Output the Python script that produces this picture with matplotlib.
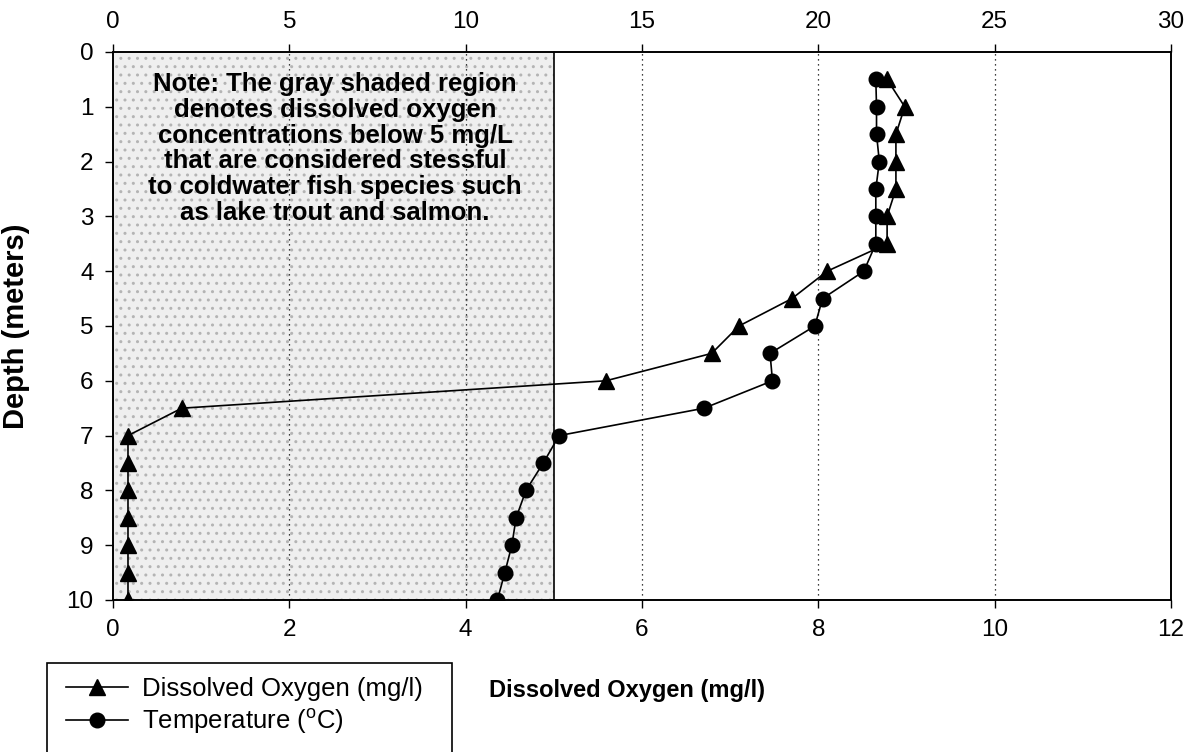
import matplotlib
matplotlib.use('Agg')
from matplotlib import pyplot as plt
from matplotlib.patches import Rectangle
import numpy as np

plt.rcParams['font.family'] = ['Liberation Sans', 'DejaVu Sans']

# depth profile, 0.5 m steps
depth = [0.5, 1.0, 1.5, 2.0, 2.5, 3.0, 3.5, 4.0, 4.5, 5.0,
         5.5, 6.0, 6.5, 7.0, 7.5, 8.0, 8.5, 9.0, 9.5, 10.0]
dissolved_oxygen = [8.78, 8.98, 8.88, 8.88, 8.88, 8.78, 8.78, 8.10, 7.70, 7.10,
                    6.79, 5.59, 0.78, 0.17, 0.17, 0.17, 0.17, 0.17, 0.17, 0.17]
temperature = [21.63, 21.65, 21.65, 21.73, 21.63, 21.63, 21.63, 21.29, 20.12, 19.90,
               18.63, 18.70, 16.76, 12.65, 12.20, 11.71, 11.43, 11.31, 11.11, 10.90]

do_ticks = [0, 2, 4, 6, 8, 10, 12]
temp_ticks = [0, 5, 10, 15, 20, 25, 30]
depth_ticks = [0, 1, 2, 3, 4, 5, 6, 7, 8, 9, 10]
stress_limit = 5

note = ('Note: The gray shaded region\n'
        'denotes dissolved oxygen\n'
        'concentrations below 5 mg/L\n'
        'that are considered stessful\n'
        'to coldwater fish species such\n'
        'as lake trout and salmon.')

W, H = 1192, 752
fig = plt.figure(figsize=(W / 100, H / 100), dpi=100)
ax = fig.add_axes([113 / W, 1 - 600 / H, (1171 - 113) / W, (600 - 52) / H])

# stressful zone (< 5 mg/L)
ax.axvspan(0, stress_limit, facecolor='#efefef', edgecolor='#b4b4b4', hatch='..', linewidth=0, zorder=0)
ax.axvline(stress_limit, color='black', lw=1.2, zorder=1)

for t in do_ticks[1:-1]:
    ax.axvline(t, color='black', lw=0.9, ls=(0, (1, 3)), zorder=1)

ax.set_xlim(0, 12)
ax.set_ylim(10, 0)
ax.set_xticks(do_ticks)
ax.set_yticks(depth_ticks)

ax2 = ax.twiny()
ax2.set_xlim(0, 30)
ax2.set_xticks(temp_ticks)

l_do, = ax.plot(dissolved_oxygen, depth, color='black', lw=1.2, marker='^', ms=11, zorder=3,
                label='Dissolved Oxygen (mg/l)')
l_t, = ax2.plot(temperature, depth, color='black', lw=1.2, marker='o', ms=10.5, zorder=3,
                label='Temperature ($\\mathregular{^{o}}$C)')

for a in (ax, ax2):
    a.tick_params(direction='out', length=6, width=1, labelsize=17.5, pad=8, colors='black')
    for s in a.spines.values():
        s.set_linewidth(1.2)

ax.set_ylabel('Depth (meters)', fontsize=21, fontweight='bold')
ax.yaxis.set_label_coords((30 - 113) / (1171 - 113), 0.5)

ax.text(2.52, 0.36, note, ha='center', va='top', fontsize=18.5, fontweight='bold',
        linespacing=1.1, zorder=4)

fig.text(627 / W, 1 - 690 / H, 'Dissolved Oxygen (mg/l)', ha='center', va='center',
         fontsize=17, fontweight='bold')

fig.add_artist(Rectangle((47 / W, -0.05), (452 - 47) / W, 1 - 663 / H + 0.05,
                         transform=fig.transFigure, fill=False, lw=1.2, color='black'))
fig.legend(handles=[l_do, l_t], loc='upper left', bbox_to_anchor=(66 / W, 1 - 677 / H),
           frameon=False, fontsize=18.5, handlelength=2.4, handletextpad=0.55,
           labelspacing=0.25, borderaxespad=0, borderpad=0)

fig.savefig('out.png', dpi=100)
